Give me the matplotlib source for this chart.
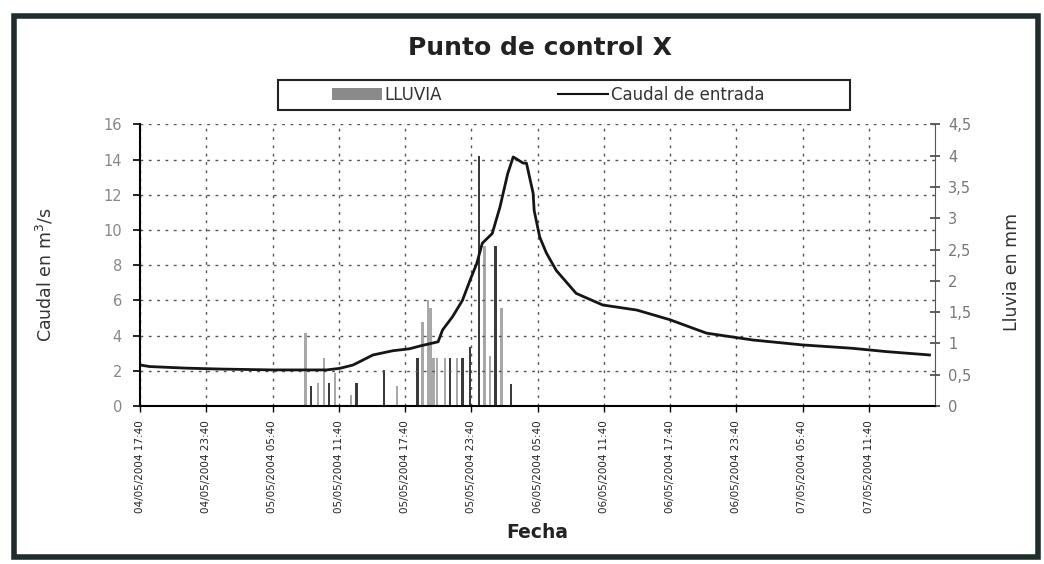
import matplotlib
matplotlib.use("Agg")
import matplotlib.pyplot as plt
from matplotlib.patches import Rectangle, Patch
from matplotlib.lines import Line2D

# ---- data (hours since 04/05/2004 17:40) ----
flow_hours = [0, 0.9, 4.25, 7.24, 12.04, 16.9, 18.1, 19.3, 21.1, 22.9, 24.4, 25.3, 27.0,
              27.4, 28.3, 29.2, 29.9, 30.5, 31.0, 31.9, 32.6, 33.3, 33.8, 34.2, 34.7,
              35.0, 35.6, 35.7, 36.2, 36.8, 37.7, 39.5, 41.9, 45.0, 48.0, 51.3, 55.5,
              60.0, 64.5, 67.6, 71.5]
flow_m3s = [2.33, 2.24, 2.15, 2.10, 2.05, 2.05, 2.14, 2.33, 2.9, 3.14, 3.25, 3.4, 3.65,
            4.32, 5.07, 6.0, 7.16, 8.1, 9.25, 9.8, 11.3, 13.2, 14.15, 14.0, 13.8,
            13.8, 12.1, 11.1, 9.6, 8.7, 7.7, 6.4, 5.74, 5.45, 4.9, 4.14, 3.75,
            3.47, 3.28, 3.09, 2.9]

rain_hours = [15.0, 15.5, 16.1, 16.65, 17.1, 17.65, 19.1, 19.6, 22.1, 23.25, 25.15, 25.6,
              26.1, 26.3, 26.6, 26.9, 27.6, 28.05, 28.7, 29.2, 29.9, 30.7, 31.2, 31.7,
              32.2, 32.75, 33.6]
rain_mm = [1.16, 0.32, 0.36, 0.76, 0.36, 0.52, 0.18, 0.36, 0.58, 0.32, 0.76, 1.35,
           1.7, 1.56, 0.76, 0.76, 0.76, 0.76, 0.76, 0.76, 0.95, 4.0, 2.55, 0.8,
           2.55, 1.56, 0.35]
rain_dark = [0, 1, 0, 0, 1, 0, 0, 1, 1, 0, 1, 0,
             0, 0, 0, 0, 0, 1, 0, 1, 1, 1, 0, 0,
             1, 0, 1]

tick_hours = [0, 6, 12, 18, 24, 30, 36, 42, 48, 54, 60, 66]
tick_labels = ["04/05/2004 17:40", "04/05/2004 23:40", "05/05/2004 05:40",
               "05/05/2004 11:40", "05/05/2004 17:40", "05/05/2004 23:40",
               "06/05/2004 05:40", "06/05/2004 11:40", "06/05/2004 17:40",
               "06/05/2004 23:40", "07/05/2004 05:40", "07/05/2004 11:40"]
left_ticks = [0, 2, 4, 6, 8, 10, 12, 14, 16]
right_ticks = [0, 0.5, 1, 1.5, 2, 2.5, 3, 3.5, 4, 4.5]
right_labels = ["0", "0,5", "1", "1,5", "2", "2,5", "3", "3,5", "4", "4,5"]

W, H = 1044, 564
fig = plt.figure(figsize=(W / 100, H / 100), dpi=100)
fig.patch.set_facecolor("white")

ax = fig.add_axes([140 / W, 1 - 406 / H, (935 - 140) / W, (406 - 124.4) / H])
ax2 = ax.twinx()
ax.set_zorder(ax2.get_zorder() + 1)
ax.patch.set_visible(False)

# rain bars
colors = ["#3a3a3a" if d else "#a8a8a8" for d in rain_dark]
ax2.bar(rain_hours, rain_mm, width=0.22, color=colors, linewidth=0)
ax2.set_ylim(0, 4.5)
ax2.set_yticks(right_ticks)
ax2.set_yticklabels(right_labels)
ax2.tick_params(axis="y", direction="inout", length=7, width=1.2, colors="#444",
                labelcolor="#777", labelsize=10.5, pad=6)

# flow line
ax.plot(flow_hours, flow_m3s, color="#151515", lw=2.0)
ax.set_xlim(0, 72)
ax.set_ylim(0, 16)
ax.set_yticks(left_ticks)
ax.tick_params(axis="y", direction="out", length=5, width=1.2, labelcolor="#888",
               labelsize=10.5, pad=8)
ax.set_xticks(tick_hours)
ax.set_xticklabels(tick_labels, rotation=90, fontsize=7.5, color="#222",
                   family=["Liberation Sans Narrow", "DejaVu Sans"])
ax.tick_params(axis="x", direction="out", length=4, width=1, pad=6)

ax.grid(True, color="#555", linestyle=(0, (2, 4)), linewidth=1)

for a in (ax, ax2):
    a.spines["top"].set_visible(False)
ax.spines["right"].set_visible(False)
ax2.spines["left"].set_visible(False)
ax2.spines["bottom"].set_visible(False)
ax2.spines["right"].set_color("#555")
ax.spines["left"].set_linewidth(1.5)
ax.spines["bottom"].set_linewidth(1.5)

# texts
fig.text(540 / W, 1 - 48 / H, "Punto de control X", ha="center", va="center",
         fontsize=18, fontweight="bold", color="#222")
fig.text(537 / W, 1 - 533 / H, "Fecha", ha="center", va="center",
         fontsize=13.5, fontweight="bold", color="#222")
fig.text(45 / W, 1 - 275 / H, "Caudal en m$^3$/s", rotation=90, ha="center", va="center",
         fontsize=12.5, color="#333", family=["Liberation Sans Narrow", "DejaVu Sans"])
fig.text(1012 / W, 1 - 272 / H, "Lluvia en mm", rotation=90, ha="center", va="center",
         fontsize=12.5, color="#333", family=["Liberation Sans Narrow", "DejaVu Sans"])

# legend
fig.add_artist(Rectangle((278 / W, 1 - 110 / H), (850 - 278) / W, 30 / H,
                         transform=fig.transFigure, fill=False, edgecolor="#222", lw=1.5))
handles = [Patch(facecolor="#8a8a8a", edgecolor="none"),
           Line2D([], [], color="#111", lw=1.5)]
fig.legend(handles, ["LLUVIA", "Caudal de entrada"], loc="center",
           bbox_to_anchor=(548 / W, 1 - 95 / H), ncol=2, frameon=False,
           fontsize=12, handlelength=3.0, handletextpad=0.15, columnspacing=7.0,
           labelcolor="#333")

# outer frame
fig.add_artist(Rectangle((14 / W, 1 - 557 / H), (1038 - 14) / W, (557 - 16) / H,
                         transform=fig.transFigure, fill=False, edgecolor="#1f2d2d", lw=4))

fig.savefig("out.png", dpi=100)
